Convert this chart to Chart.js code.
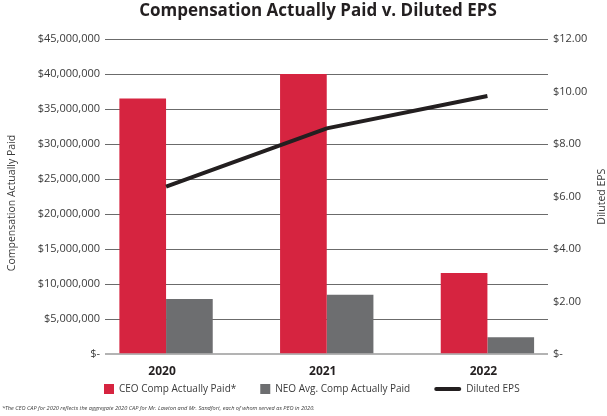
<!DOCTYPE html>
<html>
<head>
<meta charset="utf-8">
<script src="https://cdn.jsdelivr.net/npm/chart.js@4/dist/chart.umd.min.js"></script>
<style>
  html, body { margin: 0; padding: 0; background: #fff; }
  #wrap { width: 607px; height: 416px; }
</style>
</head>
<body>
<div id="wrap"><canvas id="chart" width="607" height="416"></canvas></div>
<script>
// chart values
const years = ['2020', '2021', '2022']
const ceoCap = [36500000, 40000000, 11600000]
const neoCap = [7900000, 8500000, 2450000]
const dilutedEps = [6.38, 8.60, 9.83]

const leftTicks = { min: 0, max: 45000000, step: 5000000 }
const rightTicks = { min: 0, max: 12, step: 2 }

const titleText = 'Compensation Actually Paid v. Diluted EPS'
const leftTitle = 'Compensation Actually Paid'
const rightTitle = 'Diluted EPS'
const footnote = '*The CEO CAP for 2020 reflects the aggregate 2020 CAP for Mr. Lawton and Mr. Sandfort, each of whom served as PEO in 2020.'

const RED = '#d62440'
const GRAY = '#6d6e70'
const DARK = '#231f20'
const FONT = "'Open Sans', sans-serif"

const toPoints = arr => arr.map((v, i) => ({ x: i, y: v }))

// titles, legend and footnote drawn straight on the canvas
const decorations = {
  id: 'decorations',
  afterDraw(chart) {
    const { ctx, chartArea } = chart
    ctx.save()

    // main title
    ctx.fillStyle = DARK
    ctx.font = `bold 17px ${FONT}`
    ctx.textAlign = 'center'
    ctx.textBaseline = 'middle'
    ctx.fillText(titleText, 318, 11)

    // axis titles, both reading bottom to top
    ctx.font = `10.5px ${FONT}`
    ctx.fillStyle = '#3a3a3a'
    ctx.save()
    ctx.translate(12, 203)
    ctx.rotate(-Math.PI / 2)
    ctx.fillText(leftTitle, 0, 0)
    ctx.restore()
    ctx.save()
    ctx.translate(602, (chartArea.top + chartArea.bottom) / 2)
    ctx.rotate(-Math.PI / 2)
    ctx.fillText(rightTitle, 0, 0)
    ctx.restore()

    // legend
    const y = 389
    let x = 104
    ctx.textAlign = 'left'
    ctx.font = `10px ${FONT}`
    chart.data.datasets.forEach(ds => {
      if (ds.type === 'line') {
        ctx.strokeStyle = ds.borderColor
        ctx.lineWidth = 4
        ctx.lineCap = 'round'
        ctx.beginPath()
        ctx.moveTo(x + 2, y)
        ctx.lineTo(x + 25, y)
        ctx.stroke()
        x += 32
      } else {
        ctx.fillStyle = ds.backgroundColor
        ctx.fillRect(x, y - 5, 10, 10)
        x += 15
      }
      ctx.fillStyle = '#3a3a3a'
      ctx.fillText(ds.label, x, y)
      x += ctx.measureText(ds.label).width + 24
    })

    // footnote
    ctx.font = `italic 5.6px ${FONT}`
    ctx.fillStyle = '#3a3a3a'
    ctx.fillText(footnote, 2, 408)

    ctx.restore()
  }
}

new Chart(document.getElementById('chart'), {
  type: 'bar',
  data: {
    datasets: [
      {
        label: 'CEO Comp Actually Paid*',
        data: toPoints(ceoCap),
        yAxisID: 'y',
        backgroundColor: RED,
        order: 1
      },
      {
        label: 'NEO Avg. Comp Actually Paid',
        data: toPoints(neoCap),
        yAxisID: 'y',
        backgroundColor: GRAY,
        order: 1
      },
      {
        type: 'line',
        label: 'Diluted EPS',
        data: toPoints(dilutedEps),
        yAxisID: 'y1',
        borderColor: DARK,
        borderWidth: 4,
        pointRadius: 0,
        tension: 0,
        order: 0
      }
    ]
  },
  plugins: [decorations],
  options: {
    responsive: false,
    animation: false,
    layout: { padding: { top: 39, bottom: 26.7, left: 0, right: 0 } },
    datasets: {
      bar: { barPercentage: 1, categoryPercentage: 0.581 }
    },
    plugins: {
      legend: { display: false },
      title: { display: false },
      tooltip: { enabled: false }
    },
    scales: {
      x: {
        type: 'linear',
        offset: false,
        min: -0.38,
        max: 2.377,
        afterFit: s => { s.height = 35 },
        afterBuildTicks: s => { s.ticks = years.map((_, i) => ({ value: i })) },
        grid: { display: false },
        border: { display: false },
        ticks: {
          padding: 2,
          labelOffset: -4,
          color: '#231f20',
          font: { family: FONT, size: 12, weight: 'bold' },
          callback: v => years[v]
        }
      },
      y: {
        position: 'left',
        min: leftTicks.min,
        max: leftTicks.max,
        afterFit: s => { s.width = 105 },
        border: { display: false },
        grid: {
          drawTicks: false,
          color: c => c.tick.value === 0 ? '#b3b3b3' : '#6b6b6b',
          lineWidth: c => c.tick.value === 0 ? 2 : 1
        },
        ticks: {
          stepSize: leftTicks.step,
          padding: 5,
          color: '#3a3a3a',
          font: { family: FONT, size: 11 },
          callback: v => v === 0 ? '$-' : '$' + v.toLocaleString('en-US')
        }
      },
      y1: {
        position: 'right',
        min: rightTicks.min,
        max: rightTicks.max,
        afterFit: s => { s.width = 59 },
        border: { display: false },
        grid: { display: false, drawTicks: false },
        ticks: {
          stepSize: rightTicks.step,
          padding: 5,
          color: '#3a3a3a',
          font: { family: FONT, size: 11 },
          callback: v => v === 0 ? '$-' : '$' + v.toFixed(2)
        }
      }
    }
  }
})
</script>
</body>
</html>
